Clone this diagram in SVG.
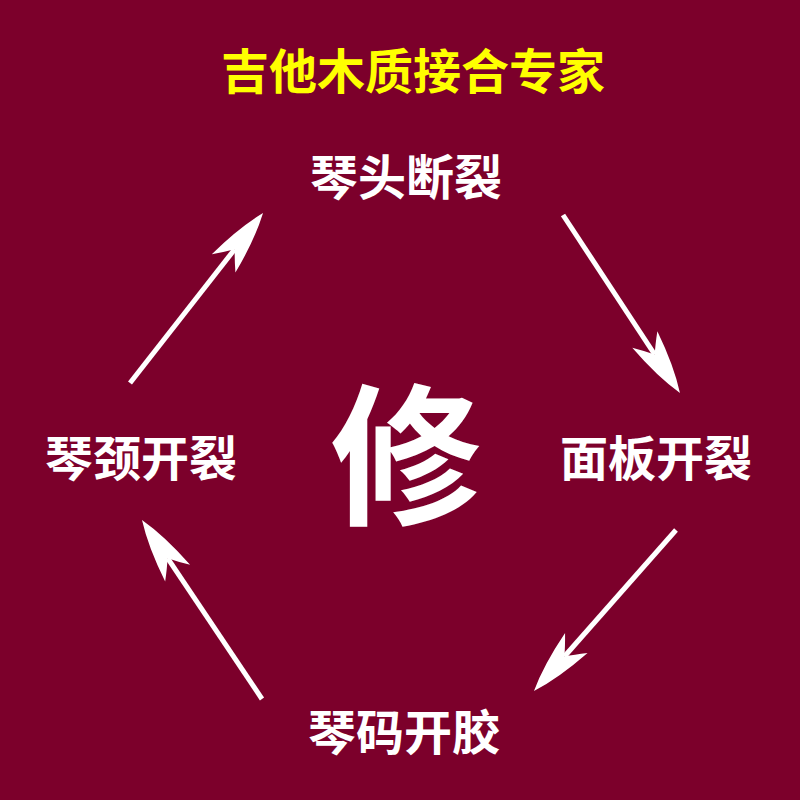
<svg xmlns="http://www.w3.org/2000/svg" width="800" height="800" viewBox="0 0 800 800">
<defs>
<style>
.t{font-family:"Noto Sans CJK SC","Noto Sans",sans-serif;font-weight:700;text-anchor:middle;fill:#fff}
.title{fill:#ffff00}
.ln{stroke:#fff;stroke-width:5;fill:none;marker-end:url(#ah)}
</style>
<marker id="ah" markerUnits="userSpaceOnUse" markerWidth="80" markerHeight="40" refX="0" refY="0" orient="auto" overflow="visible">
<path d="M46,0 Q20,-10 -18,-15 Q-8,-6 0,0 Q-8,6 -18,15 Q20,10 46,0 Z" fill="#fff"/>
</marker>
</defs>
<rect width="800" height="800" fill="#7c002b"/>
<g id="title"><text class="t title" x="413" y="89" font-size="48">吉他木质接合专家</text></g>
<g id="center"><text class="t" x="406" y="513" font-size="152">修</text></g>
<g id="n-top"><text class="t" x="406" y="195" font-size="48">琴头断裂</text></g>
<g id="n-right"><text class="t" x="656" y="476" font-size="48">面板开裂</text></g>
<g id="n-bottom"><text class="t" x="404" y="750" font-size="48">琴码开胶</text></g>
<g id="n-left"><text class="t" x="141" y="476" font-size="48">琴颈开裂</text></g>
<g id="connectors">
<line class="ln" x1="563" y1="215" x2="654.7" y2="354.5"/>
<line class="ln" x1="676" y1="530" x2="564.4" y2="656.5"/>
<line class="ln" x1="262" y1="699" x2="167.6" y2="558.2"/>
<line class="ln" x1="130" y1="383" x2="234.7" y2="249.2"/>
</g>
</svg>
